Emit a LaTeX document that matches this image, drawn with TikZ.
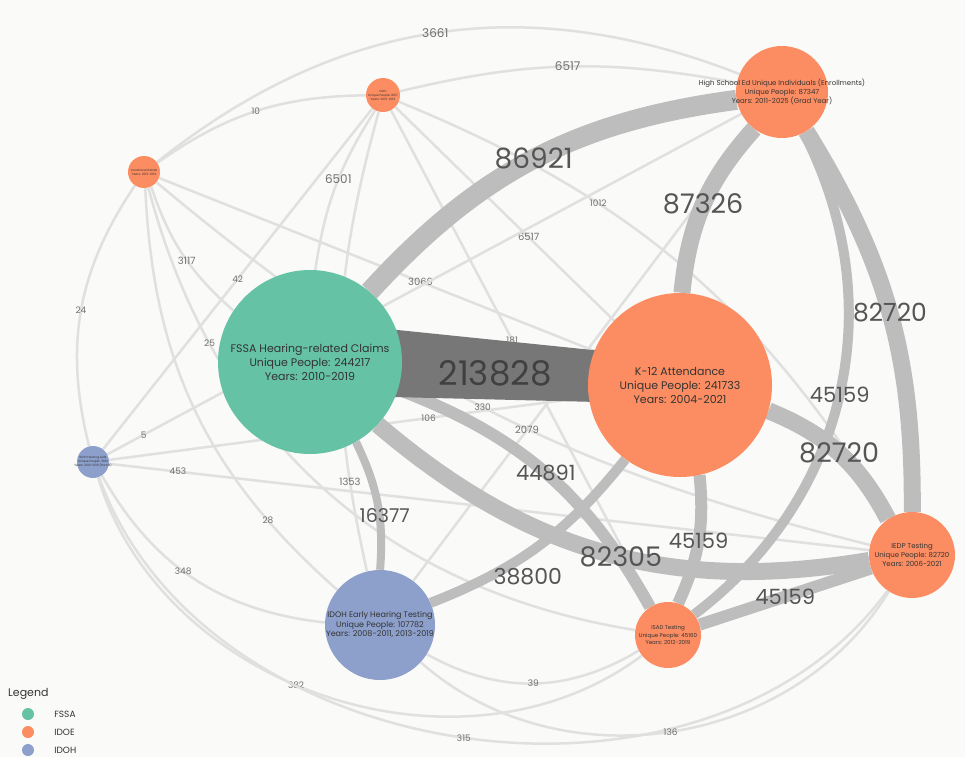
\documentclass[tikz,border=0pt]{standalone}
\usepackage{fontspec}
\setmainfont{Poppins}
\usetikzlibrary{positioning,calc,backgrounds}

\definecolor{fssacol}{HTML}{66C2A5}
\definecolor{idoecol}{HTML}{FC8D62}
\definecolor{idohcol}{HTML}{8DA0CB}
\definecolor{bandcol}{HTML}{BDBDBD}
\definecolor{thincol}{HTML}{E0E0E0}
\definecolor{darkband}{HTML}{777777}
\definecolor{numcol}{HTML}{555555}
\definecolor{smallnum}{HTML}{707070}
\definecolor{txtcol}{HTML}{333333}
\definecolor{bgcol}{HTML}{FAFAF8}

\tikzset{
  dataset/.style={circle, inner sep=0pt, minimum size=#1},
  nodetext/.style 2 args={align=center, text=txtcol, inner sep=0pt,
    font=\fontsize{#1}{#2}\selectfont},
  thinlink/.style={draw=thincol, line width=2.5pt},
  bandlink/.style={draw=bandcol, line width=#1},
  wlabel/.style={text=numcol, inner sep=1pt, font=\fontsize{#1}{#1}\selectfont},
  slabel/.style={text=smallnum, inner sep=1pt, font=\fontsize{#1}{#1}\selectfont},
  legdot/.style={circle, inner sep=0pt, minimum size=12pt},
  legtext/.style={text=txtcol, inner sep=0pt, font=\fontsize{9}{9}\selectfont}
}

\begin{document}
\begin{tikzpicture}[x=1pt, y=-1pt]
\useasboundingbox (0,0) rectangle (965,757);

% data sets
\node[dataset=184, fill=fssacol,
  label={[nodetext={11}{14}]center:{FSSA Hearing-related Claims\\Unique People: 244217\\Years: 2010-2019}}]
  (fssa) at (310,362) {};
\node[dataset=184, fill=idoecol,
  label={[nodetext={11}{14}]center:{K-12 Attendance\\Unique People: 241733\\Years: 2004-2021}}]
  (kattend) at (680,385) {};
\node[dataset=92, fill=idoecol,
  label={[nodetext={7}{9}]center:{High School Ed Unique Individuals (Enrollments)\\Unique People: 87347\\Years: 2011-2025 (Grad Year)}}]
  (hsgrad) at (782,92) {};
\node[dataset=86, fill=idoecol,
  label={[nodetext={7}{9}]center:{IEDP Testing\\Unique People: 82720\\Years: 2006-2021}}]
  (iedp) at (912,555) {};
\node[dataset=66, fill=idoecol,
  label={[nodetext={5.5}{7.5}]center:{ISAD Testing\\Unique People: 45160\\Years: 2012-2019}}]
  (isad) at (668,635) {};
\node[dataset=110, fill=idohcol,
  label={[nodetext={8}{9.5}]center:{IDOH Early Hearing Testing\\Unique People: 107782\\Years: 2008-2011, 2013-2019}}]
  (idoh) at (380,625) {};
\node[dataset=34, fill=idoecol,
  label={[nodetext={3}{4}]center:{ISDH\\Unique People: 8617\\Years: 2010-2019}}]
  (ttop) at (383,95) {};
\node[dataset=32, fill=idoecol,
  label={[nodetext={3}{4}]center:{Vocational Rehab\\Years: 2013-2019}}]
  (ltop) at (144,172) {};
\node[dataset=32, fill=idohcol,
  label={[nodetext={3}{4}]center:{IDOH Hearing Aids\\Unique People: 3661\\Years: 2013-2019 (Partial)}}]
  (bsmall) at (93,462) {};

\begin{pgfonlayer}{background}
\fill[bgcol] (0,0) rectangle (965,757);

% thin links
\foreach \a/\b/\ang/\p/\w/\s in {
    ltop/hsgrad/30/.5/3661/12, ttop/hsgrad/12/.5/6517/12,
    ltop/ttop/17/.5/10/9, ttop/fssa/-12/.45/6501/12,
    ttop/kattend/0/.62/6517/10, ltop/kattend/0/.61/3069/10,
    ltop/fssa/-15/.55/3117/10, ttop/bsmall/0/.5/42/9,
    ltop/bsmall/-24/.5/24/9, ltop/isad/-33/.23/25/9,
    ltop/idoh/-23/.8/28/9, ttop/idoh/-14/.82/1353/10,
    bsmall/kattend/0/.68/106/9, ltop/iedp/-13/.49/330/9,
    ttop/isad/0/.46/181/9, idoh/hsgrad/0/.32/2079/10,
    ttop/iedp/18/.33/1012/9, bsmall/hsgrad/0/.05/5/9,
    bsmall/iedp/0/.08/453/9, bsmall/idoh/-27/.45/348/9,
    bsmall/isad/-55/.45/382/9, bsmall/iedp/-62/.5/315/9,
    idoh/isad/-30/.5/39/9, idoh/iedp/-50/.5/136/9} {
  \draw[thinlink] (\a) to[bend left=\ang] node[pos=\p, slabel=\s] {\w} (\b);
}

% heavy links
\draw[bandlink=20pt] (fssa) to[bend left=20] node[wlabel=28] {86921} (hsgrad);
\draw[bandlink=17pt] (kattend) to[bend left=18] node[wlabel=27] {87326} (hsgrad);
\draw[bandlink=17pt] (hsgrad) to[bend left=16] node[wlabel=25] {82720} (iedp);
\draw[bandlink=10pt] (hsgrad) to[bend left=40] node[wlabel=21] {45159} (isad);
\draw[bandlink=17pt] (kattend) to[bend left=20] node[wlabel=27] {82720} (iedp);
\draw[bandlink=12pt] (fssa) to[bend left=20] node[wlabel=21] {44891} (isad);
\draw[bandlink=10pt] (idoh) to[bend right=15] node[pos=.44, below=9pt, wlabel=22] {38800} (kattend);
\draw[bandlink=17pt] (fssa) to[bend right=25] node[pos=.53, wlabel=27] {82305} (iedp);
\draw[bandlink=12pt] (kattend) to[bend left=15] node[wlabel=21] {45159} (isad);
\draw[bandlink=12pt] (iedp) -- node[wlabel=21] {45159} (isad);
\draw[bandlink=8pt] (fssa) to[bend left=15] node[pos=.55, xshift=6pt, yshift=-6pt, wlabel=19] {16377} (idoh);

% strongest link
\fill[darkband] ($(fssa.center)+(0,-41)$) -- ($(kattend.center)+(0,-26)$)
  -- ($(kattend.center)+(0,19)$) -- ($(fssa.center)+(0,33)$) -- cycle;
\node[wlabel=34, text=black!75] (toplink) at ($(fssa.center)!.5!(kattend.center)$) {213828};
\end{pgfonlayer}

% legend
\node[anchor=west, legtext, font=\fontsize{11}{11}\selectfont] (legtitle) at (8,694) {Legend};
\foreach \col/\name [count=\i] in {fssacol/FSSA, idoecol/IDOE, idohcol/IDOH} {
  \node[legdot, fill=\col] (leg\i) at (28,696+18*\i) {};
  \node[legtext, right=20pt of leg\i] (legname\i) {\name};
}
\end{tikzpicture}
\end{document}
